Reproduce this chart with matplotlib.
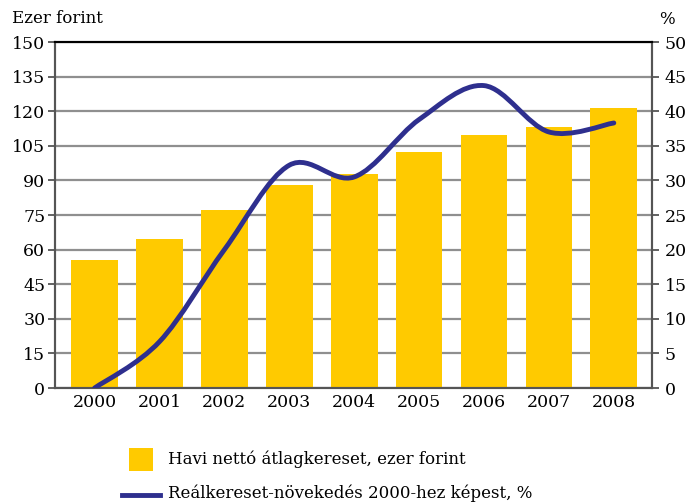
import numpy as np
import matplotlib
matplotlib.use('Agg')
import matplotlib.pyplot as plt
from matplotlib.path import Path
from matplotlib.patches import PathPatch, Rectangle
from matplotlib.lines import Line2D

years = ['2000', '2001', '2002', '2003', '2004', '2005', '2006', '2007', '2008']
wage = [55.7, 64.6, 77.1, 88.0, 92.9, 102.2, 109.9, 113.0, 121.2]
real_growth = [0.0, 6.7, 20.0, 32.2, 30.5, 38.8, 43.7, 37.0, 38.3]

bar_color = '#FFCA00'
line_color = '#2E2F8E'
font = ['DejaVu Serif']

plt.rcParams['font.family'] = font
plt.rcParams['font.size'] = 12.5

fig = plt.figure(figsize=(6.93, 5.03), dpi=100)
ax = fig.add_axes([0.0794, 0.2286, 0.8616, 0.6879])
x = np.arange(len(years))

ax.set_axisbelow(True)
ax.yaxis.grid(True, color='#8f8f8f', linewidth=1.6)
ax.bar(x, wage, width=0.72, color=bar_color, zorder=2)
ax.set_xlim(-0.61, len(years) - 1 + 0.59)
ax.set_ylim(0, 150)
ax.set_yticks(np.arange(0, 151, 15))
ax.set_xticks(x)
ax.set_xticklabels(years)
ax.tick_params(axis='x', length=0, pad=4, labelsize=12.5)
ax.tick_params(axis='y', length=5, width=1.3, color='#555555', pad=2, labelsize=12.5)

ax2 = ax.twinx()
ax2.set_ylim(0, 50)
ax2.set_yticks(np.arange(0, 51, 5))
ax2.tick_params(axis='y', length=5, width=1.3, color='#555555', pad=4, labelsize=12.5)

for a in (ax, ax2):
    for side in ('left', 'right', 'bottom'):
        a.spines[side].set_color('#555555')
        a.spines[side].set_linewidth(1.5)
    a.spines['top'].set_color('black')
    a.spines['top'].set_linewidth(1.5)

# smoothed line (Excel style bezier through the yearly points)
pts = np.column_stack([x, real_growth]).astype(float)
verts, codes = [pts[0]], [Path.MOVETO]
n = len(pts)
for i in range(n - 1):
    p_prev = pts[i - 1] if i > 0 else pts[i]
    p_next2 = pts[i + 2] if i + 2 < n else pts[i + 1]
    c1 = pts[i] + (pts[i + 1] - p_prev) / 6
    c2 = pts[i + 1] - (p_next2 - pts[i]) / 6
    verts += [c1, c2, pts[i + 1]]
    codes += [Path.CURVE4] * 3
patch = PathPatch(Path(verts, codes), facecolor='none', edgecolor=line_color,
                  linewidth=3.5, capstyle='round', joinstyle='round', zorder=3)
ax2.add_patch(patch)

fig.text(0.018, 0.964, 'Ezer forint', ha='left', va='center', fontsize=12)
fig.text(0.951, 0.962, '%', ha='left', va='center', fontsize=12)

# legend
fig.add_artist(Rectangle((129 / 693, 1 - 471 / 503), 24 / 693, 23 / 503,
                         transform=fig.transFigure, facecolor=bar_color, edgecolor='none'))
fig.text(168 / 693, 1 - 459 / 503, 'Havi nettó átlagkereset, ezer forint',
         ha='left', va='center', fontsize=12)
fig.add_artist(Line2D([122 / 693, 160 / 693], [1 - 495 / 503, 1 - 495 / 503],
                      transform=fig.transFigure, color=line_color, linewidth=3.5))
fig.text(168 / 693, 1 - 493 / 503, 'Reálkereset-növekedés 2000-hez képest, %',
         ha='left', va='center', fontsize=12)

fig.savefig('out.png', dpi=100)
